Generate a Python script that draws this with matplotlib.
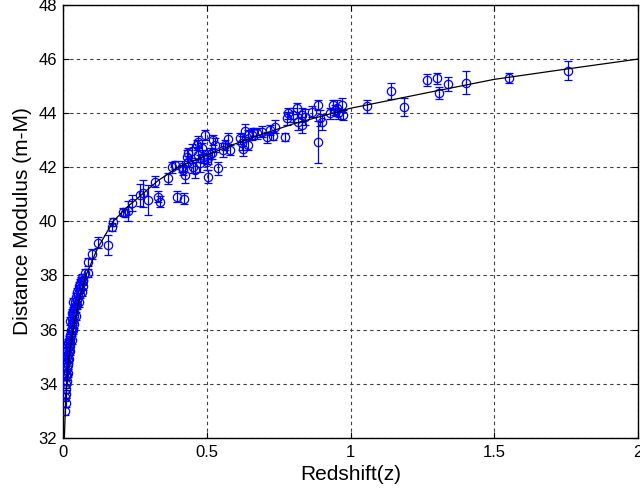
import numpy as np
import matplotlib
matplotlib.use("Agg")
import matplotlib.pyplot as plt

plt.rcParams['font.family'] = ['Liberation Sans', 'DejaVu Sans']

# supernova data: redshift, distance modulus, error
z_low = [0.007, 0.009, 0.010, 0.011, 0.012, 0.013, 0.014, 0.015, 0.016, 0.017,
         0.018, 0.019, 0.020, 0.021, 0.022, 0.023, 0.024, 0.025, 0.026, 0.027,
         0.028, 0.030, 0.031, 0.032, 0.034, 0.035, 0.037, 0.038, 0.040, 0.042,
         0.044, 0.046, 0.048, 0.050, 0.053, 0.055, 0.058, 0.060, 0.063, 0.067,
         0.071, 0.075, 0.008, 0.012, 0.015, 0.018,
         0.045, 0.050, 0.060, 0.035, 0.025, 0.030, 0.065, 0.070, 0.040, 0.055,
         0.020, 0.015, 0.025, 0.030, 0.035, 0.012, 0.010]
mu_low = [33.0, 33.3, 33.6, 34.0, 33.8, 34.3, 34.1, 34.6, 34.4, 34.9,
          34.7, 35.1, 34.9, 35.4, 35.2, 35.6, 35.4, 35.8, 35.5, 36.0,
          35.8, 36.2, 36.0, 36.4, 36.3, 36.6, 36.5, 36.8, 36.7, 37.0,
          36.9, 37.2, 37.1, 37.4, 37.3, 37.6, 37.5, 37.7, 37.8, 37.9,
          37.8, 38.1, 33.5, 34.5, 35.0, 35.5,
          36.5, 36.9, 37.3, 36.0, 35.2, 35.6, 37.4, 37.6, 36.2, 37.0,
          35.6, 35.2, 36.3, 36.6, 37.0, 34.8, 34.3]

z_hi = [0.059, 0.071, 0.088, 0.088, 0.100, 0.123, 0.158, 0.169, 0.175, 0.210,
        0.216, 0.227, 0.239, 0.268, 0.277, 0.297, 0.320, 0.332, 0.337, 0.366,
        0.378, 0.390, 0.395, 0.413, 0.418, 0.421, 0.424, 0.430, 0.436, 0.436,
        0.448, 0.453, 0.459, 0.465, 0.468, 0.471, 0.477, 0.482, 0.488, 0.494,
        0.500, 0.503, 0.506, 0.511, 0.517, 0.523, 0.529, 0.540, 0.558, 0.562,
        0.575, 0.581, 0.616, 0.622, 0.627, 0.633, 0.645, 0.645, 0.656, 0.662,
        0.674, 0.691, 0.709, 0.720, 0.731, 0.737, 0.772, 0.778, 0.784, 0.801,
        0.813, 0.818, 0.830, 0.830, 0.842, 0.865, 0.886, 0.888, 0.894, 0.900,
        0.929, 0.940, 0.946, 0.952, 0.958, 0.969, 0.975, 1.056, 1.140, 1.187,
        1.266, 1.302, 1.306, 1.340, 1.402, 1.551, 1.758]
mu_hi = [37.64, 37.83, 38.08, 38.51, 38.79, 39.21, 39.12, 39.80, 39.99, 40.33,
         40.32, 40.40, 40.67, 40.97, 41.04, 40.79, 41.47, 40.91, 40.73, 41.59,
         42.00, 42.08, 40.91, 42.02, 41.90, 40.83, 41.71, 42.39, 42.20, 42.52,
         42.61, 42.02, 41.90, 42.82, 42.95, 42.45, 42.14, 42.70, 42.39, 43.19,
         42.20, 42.33, 41.65, 42.50, 42.52, 43.01, 42.82, 41.96, 42.64, 42.82,
         43.05, 42.64, 43.07, 42.89, 42.68, 43.35, 43.19, 42.82, 43.20, 43.31,
         43.25, 43.31, 43.10, 43.38, 43.15, 43.50, 43.13, 43.81, 43.99, 43.93,
         44.18, 43.68, 43.93, 43.56, 43.87, 44.05, 42.92, 44.30, 43.81, 43.68,
         43.99, 44.30, 44.12, 44.18, 43.99, 44.30, 43.93, 44.25, 44.83, 44.23,
         45.23, 45.29, 44.73, 45.07, 45.13, 45.31, 45.57]
err_hi = [0.12, 0.12, 0.15, 0.15, 0.20, 0.20, 0.37, 0.15, 0.15, 0.15,
          0.15, 0.37, 0.30, 0.40, 0.50, 0.55, 0.20, 0.20, 0.20, 0.20,
          0.20, 0.15, 0.20, 0.20, 0.20, 0.20, 0.30, 0.25, 0.20, 0.20,
          0.25, 0.25, 0.30, 0.20, 0.20, 0.25, 0.30, 0.20, 0.25, 0.20,
          0.30, 0.20, 0.25, 0.20, 0.20, 0.20, 0.25, 0.25, 0.25, 0.20,
          0.20, 0.20, 0.20, 0.25, 0.25, 0.25, 0.20, 0.20, 0.20, 0.15,
          0.20, 0.20, 0.20, 0.20, 0.15, 0.25, 0.15, 0.25, 0.20, 0.25,
          0.20, 0.30, 0.25, 0.30, 0.30, 0.20, 0.78, 0.20, 0.30, 0.30,
          0.20, 0.20, 0.20, 0.30, 0.20, 0.25, 0.20, 0.25, 0.30, 0.33,
          0.21, 0.21, 0.22, 0.26, 0.44, 0.19, 0.36]

# model curve
z_fit = [0.005, 0.008, 0.013, 0.021, 0.036, 0.055, 0.08, 0.12, 0.175, 0.22,
         0.27, 0.33, 0.40, 0.50, 0.59, 0.65, 0.755, 0.80, 1.0, 1.25, 1.5, 1.75, 2.0]
mu_fit = [32.0, 33.0, 34.0, 35.0, 36.0, 37.05, 38.0, 39.0, 40.0, 40.5,
          40.95, 41.5, 42.0, 42.45, 42.83, 43.07, 43.44, 43.6, 44.18, 44.72, 45.25, 45.63, 46.0]

z_obs = np.array(z_low + z_hi)
mu_obs = np.array(mu_low + mu_hi)
mu_err = np.array([0.15] * len(z_low) + err_hi)

fig = plt.figure(figsize=(6.4, 4.93), dpi=100)
ax = fig.add_axes([0.0984, 0.1122, 0.8986, 0.8777])

ax.errorbar(z_obs, mu_obs, yerr=mu_err, fmt='o', color='#0000ff', mfc='none',
            ms=6, mew=0.9, elinewidth=0.9, capsize=3, capthick=0.9, zorder=3)
ax.plot(z_fit, mu_fit, color='black', lw=0.9, zorder=4)

ax.set_xlim(0, 2)
ax.set_ylim(32, 48)
ax.set_xticks([0, 0.5, 1, 1.5, 2])
ax.set_xticklabels(['0', '0.5', '1', '1.5', '2'])
ax.set_yticks(np.arange(32, 49, 2))
ax.grid(True, color='#404040', linestyle=(0, (3, 3)), linewidth=0.8)
ax.tick_params(direction='in', top=True, right=True, labelsize=12, length=4)
ax.tick_params(axis='x', pad=5)
ax.tick_params(axis='y', pad=4)
for s in ax.spines.values():
    s.set_linewidth(1.0)
ax.set_xlabel('Redshift(z)', fontsize=15, labelpad=4)
ax.set_ylabel('Distance Modulus (m-M)', fontsize=15, labelpad=5)

fig.savefig('out.png', dpi=100)
